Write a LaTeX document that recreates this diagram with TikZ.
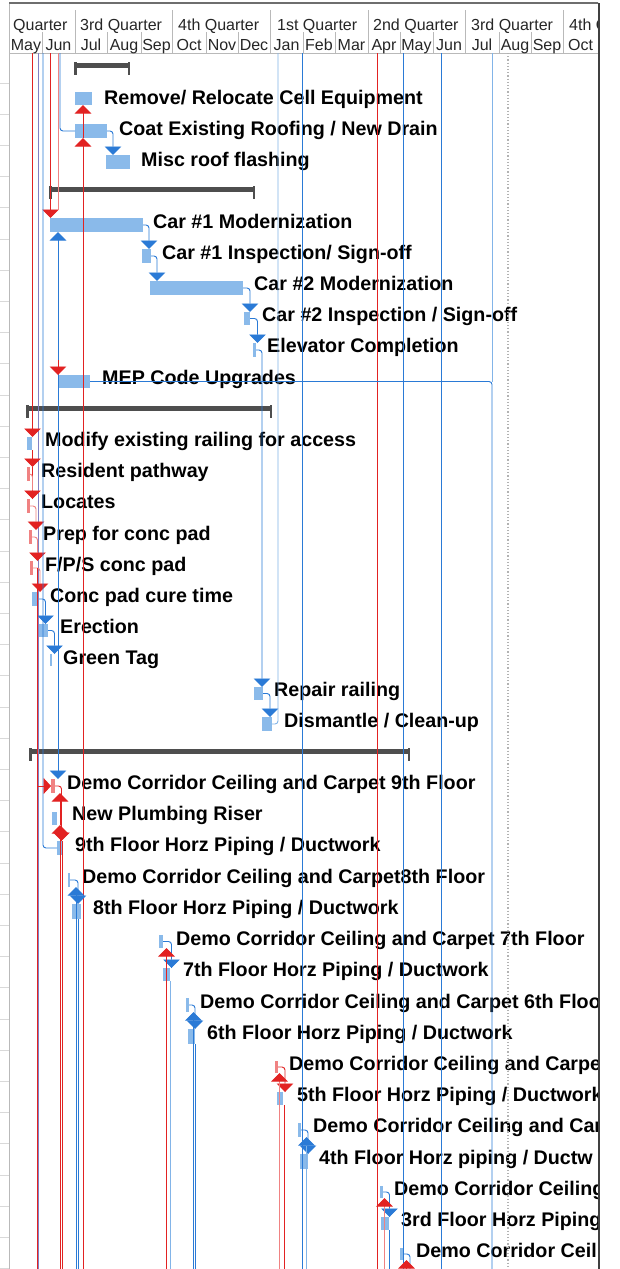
\documentclass[tikz,border=0pt]{standalone}
\usepackage{fontspec}
\setmainfont{Liberation Sans}
\usetikzlibrary{arrows.meta}
\definecolor{barblue}{RGB}{138,186,234}
\definecolor{lnkblue}{RGB}{42,122,214}
\definecolor{lblue}{RGB}{130,180,232}
\definecolor{lnkred}{RGB}{226,34,34}
\definecolor{lred}{RGB}{240,130,130}
\definecolor{purp}{RGB}{128,128,196}
\definecolor{sumgray}{RGB}{78,78,78}
\definecolor{hdrline}{RGB}{185,185,185}
\definecolor{frame}{RGB}{110,110,110}
\newcommand\gbar[6]{\node[#6,minimum width=#4pt,minimum height=#5pt] (#1) at (#2,#3) {};}
\newcommand\gsum[3]{%
  \fill[sumgray] (#1,#3) rectangle (#2,#3+4.5);
  \fill[sumgray] (#1,#3-1) rectangle (#1+2.5,#3+12);
  \fill[sumgray] (#2-2.5,#3-1) rectangle (#2,#3+12);}
\begin{document}
\begin{tikzpicture}[x=1pt,y=-1pt,
  bar/.style={fill=barblue,draw=none,inner sep=0pt,outer sep=0pt,anchor=north west},
  rbar/.style={bar,fill=lred},
  lbl/.style={anchor=base west,inner sep=0pt,font=\fontsize{19.7}{20}\selectfont\bfseries,text=black},
  hq/.style={anchor=base west,inner sep=0pt,font=\fontsize{16}{17}\selectfont,text=black!85},
  hm/.style={anchor=base,inner sep=0pt,font=\fontsize{16}{17}\selectfont,text=black!85},
  blink/.style={draw=lnkblue,line width=0.9pt},
  lblink/.style={draw=lblue,line width=0.9pt},
  rlink/.style={draw=lnkred,line width=0.9pt},
  lrlink/.style={draw=lred,line width=0.9pt},
  plink/.style={draw=purp,line width=0.9pt},
  toB/.style={-{Triangle[width=16.5pt,length=8.5pt,color=lnkblue]}},
  toR/.style={-{Triangle[width=16.5pt,length=8.5pt,color=lnkred]}},
  bothB/.style={{Triangle[width=16.5pt,length=8.5pt,color=lnkblue]}-{Triangle[width=16.5pt,length=8.5pt,color=lnkblue]}},
  toRside/.style={-{Triangle[width=16pt,length=7.5pt,color=lnkred]}},
  hdiv/.style={draw=hdrline,line width=0.8pt},
  rc/.style={rounded corners=3pt}]
\useasboundingbox (0,0) rectangle (619,1269);
\fill[white] (0,0) rectangle (619,1269);

% left table edge
\draw[draw=hdrline,line width=1pt] (9,3) -- (9,1269);
\foreach \k in {0,...,38} \draw[draw=black!15,line width=0.8pt] (0,83+31.2*\k) -- (9,83+31.2*\k);

% free ends of connectors
\coordinate (t33) at (32.5,53);
\coordinate (t38) at (38,53); \coordinate (b38) at (38,1269);
\coordinate (t43) at (43,53);
\coordinate (t50) at (50.5,53);
\coordinate (t58) at (58,53);
\coordinate (t60) at (60,53);
\coordinate (b83) at (83,1269);
\coordinate (t278) at (278,53);
\coordinate (t302) at (302,53); \coordinate (b302) at (302,1269);
\coordinate (t377) at (377,53); \coordinate (b377) at (377,1269);
\coordinate (t403) at (403,53); \coordinate (b403) at (403,1269);
\coordinate (t441) at (441,53); \coordinate (b441) at (441,1269);
\coordinate (t492) at (492,53); \coordinate (b492) at (492,1269);
\coordinate (t508) at (508,53); \coordinate (b508) at (508,1269);
\coordinate (r37) at (37,568); \coordinate (b37) at (37,1269);
\coordinate (mepin) at (58,360);
\coordinate (b60) at (60,1269); \coordinate (b62) at (62,1269);
\coordinate (b76) at (76,1269); \coordinate (b78) at (78,1269);
\coordinate (b166) at (166.5,1269); \coordinate (b170) at (170.5,1269);
\coordinate (b193) at (193.5,1269); \coordinate (b195) at (195.5,1269);
\coordinate (b279) at (279.5,1269); \coordinate (b284) at (284.5,1269);
\coordinate (b306) at (306.5,1269);
\coordinate (b384) at (384.5,1269); \coordinate (b389) at (389.5,1269);
\coordinate (b406) at (406.5,1269); \coordinate (b410) at (410,1269);

\begin{scope}
\clip (9,0) rectangle (598,1269);

% header
\draw[draw=frame,line width=1.2pt] (9,3) -- (599,3);
\draw[draw=hdrline,line width=1pt] (9,53) -- (599,53);
\foreach \x in {42,107,141,206,238,303,335,400,433,499,531} \draw[hdiv] (\x,32) -- (\x,53);
\foreach \x in {75,172,270,368,465,563} \draw[hdiv] (\x,10) -- (\x,53);
\node[hq] (q1) at (13,30) {Quarter};
\node[hq] (q2) at (80,30) {3rd Quarter};
\node[hq] (q3) at (178,30) {4th Quarter};
\node[hq] (q4) at (277,30) {1st Quarter};
\node[hq] (q5) at (373,30) {2nd Quarter};
\node[hq] (q6) at (471,30) {3rd Quarter};
\node[hq] (q7) at (569,30) {4th Q};
\foreach \m/\x [count=\i] in {May/26,Jun/58.5,Jul/91,Aug/124,Sep/156.5,Oct/189,Nov/222,Dec/254,Jan/286.5,Feb/319,Mar/351.5,Apr/384,May/416.5,Jun/449,Jul/482,Aug/515,Sep/547,Oct/580.5}
  \node[hm] (m\i) at (\x,50) {\m};

% labels
\node[lbl] (lremove) at (104,104) {Remove/ Relocate Cell Equipment};
\node[lbl] (lcoat) at (119,135) {Coat Existing Roofing / New Drain};
\node[lbl] (lmisc) at (141,166) {Misc roof flashing};
\node[lbl] (lcar1) at (153,228) {Car \#1 Modernization};
\node[lbl] (linsp1) at (162,259) {Car \#1 Inspection/ Sign-off};
\node[lbl] (lcar2) at (254,290) {Car \#2 Modernization};
\node[lbl] (linsp2) at (262,321) {Car \#2 Inspection / Sign-off};
\node[lbl] (lelev) at (267,352) {Elevator Completion};
\node[lbl] (lmep) at (102,384) {MEP Code Upgrades};
\node[lbl] (lmodify) at (45,446) {Modify existing railing for access};
\node[lbl] (lresident) at (41,477) {Resident pathway};
\node[lbl] (llocates) at (41,508) {Locates};
\node[lbl] (lprep) at (43,540) {Prep for conc pad};
\node[lbl] (lfps) at (45,571) {F/P/S conc pad};
\node[lbl] (lconc) at (50,602) {Conc pad cure time};
\node[lbl] (lerection) at (60,633) {Erection};
\node[lbl] (lgreen) at (63,664) {Green Tag};
\node[lbl] (lrepair) at (274,696) {Repair railing};
\node[lbl] (ldismantle) at (284,727) {Dismantle / Clean-up};
\node[lbl] (ldemo9) at (67,789) {Demo Corridor Ceiling and Carpet 9th Floor};
\node[lbl] (lplumb) at (72,820) {New Plumbing Riser};
\node[lbl] (lfloor9) at (75,851) {9th Floor Horz Piping / Ductwork};
\node[lbl] (ldemo8) at (82,883) {Demo Corridor Ceiling and Carpet8th Floor};
\node[lbl] (lfloor8) at (93,914) {8th Floor Horz Piping / Ductwork};
\node[lbl] (ldemo7) at (176,945) {Demo Corridor Ceiling and Carpet 7th Floor};
\node[lbl] (lfloor7) at (183,976) {7th Floor Horz Piping / Ductwork};
\node[lbl] (ldemo6) at (200,1008) {Demo Corridor Ceiling and Carpet 6th Floo};
\node[lbl] (lfloor6) at (207,1039) {6th Floor Horz Piping / Ductwork};
\node[lbl] (ldemo5) at (289,1070) {Demo Corridor Ceiling and Carpe};
\node[lbl] (lfloor5) at (297,1101) {5th Floor Horz Piping / Ductwork};
\node[lbl] (ldemo4) at (313,1132) {Demo Corridor Ceiling and Car};
\node[lbl] (lfloor4) at (319,1164) {4th Floor Horz piping / Ductw};
\node[lbl] (ldemo3) at (394,1195) {Demo Corridor Ceiling};
\node[lbl] (lfloor3) at (401,1226) {3rd Floor Horz Piping};
\node[lbl] (ldemo2) at (416,1257) {Demo Corridor Ceili};

% summary bars
\gsum{74}{130}{63}
\gsum{49}{255}{187}
\gsum{26}{272}{406}
\gsum{29}{410}{749}

% task bars
\gbar{remove}{75}{92}{17}{13}{bar}
\gbar{coat}{75}{124}{32}{14}{bar}
\gbar{misc}{106}{155}{24}{14}{bar}
\gbar{car1}{50}{218}{93}{14}{bar}
\gbar{insp1}{142}{249}{9}{14}{bar}
\gbar{car2}{150}{281}{93}{14}{bar}
\gbar{insp2}{244}{312}{6}{13}{bar}
\gbar{elev}{253}{343}{3}{14}{bar}
\gbar{mep}{58}{375}{32}{13}{bar}
\gbar{modify}{27}{437}{5}{13}{bar}
\gbar{resident}{27}{467}{3}{14}{rbar}
\gbar{locates}{27}{499}{3}{14}{rbar}
\gbar{prep}{29}{530}{3}{14}{rbar}
\gbar{fps}{30}{561}{3}{14}{rbar}
\gbar{conc}{32}{592}{7}{14}{bar}
\gbar{erection}{39}{624}{9}{13}{bar}
\gbar{green}{50}{654}{2}{12}{bar}
\gbar{repair}{254}{687}{9}{13}{bar}
\gbar{dismantle}{262}{717}{10}{14}{bar}
\gbar{demo9}{51}{779}{4}{14}{rbar}
\gbar{plumb}{52}{812}{5}{13}{bar}
\gbar{floor9}{57}{841}{5}{14}{bar}
\gbar{demo8}{68}{873}{2}{14}{bar}
\gbar{floor8}{72}{904}{9}{15}{bar}
\gbar{demo7}{159}{935}{4}{13}{bar}
\gbar{floor7}{163}{968}{7}{13}{bar}
\gbar{demo6}{186}{998}{3}{14}{bar}
\gbar{floor6}{188}{1029}{7}{15}{bar}
\gbar{demo5}{275}{1061}{3}{12}{rbar}
\gbar{floor5}{277}{1092}{6}{13}{bar}
\gbar{demo4}{298}{1123}{3}{14}{bar}
\gbar{floor4}{300}{1154}{8}{15}{bar}
\gbar{demo3}{380}{1186}{3}{12}{bar}
\gbar{floor3}{381}{1217}{8}{13}{bar}
\gbar{demo2}{400}{1248}{4}{12}{bar}

% long vertical link lines
\draw[plink] (t38) -- (b38);
\draw[blink] (t302) -- (b302);
\draw[rlink] (t377) -- (b377);
\draw[blink] (t403) -- (b403);
\draw[blink] (t441) -- (b441);
\draw[draw=black!30,line width=1.2pt,dotted] (t508) -- (b508);

% top group
\draw[blink,rc] (t60) |- (coat.west);
\draw[rlink,toR] (coat.south -| b83) -- (b83 |- remove.south);
\draw[rlink,toR] (b83) -- (b83 |- coat.south);
\draw[blink,rc,toB] (coat.east) -| ([xshift=7pt]misc.north west);

% elevator group
\draw[rlink,toR] (t50) -- (t50 |- car1.north);
\draw[lrlink] (t58) -- ([yshift=8pt]t58 |- car1.north);
\draw[blink,bothB] (car1.south -| t58) -- (demo9.north -| t58);
\draw[blink,rc,toB] (car1.east) -| ([xshift=7pt]insp1.north west);
\draw[blink,rc,toB] (insp1.east) -| ([xshift=7pt]car2.north west);
\draw[blink,rc,toB] (car2.east) -| ([xshift=6pt]insp2.north west);
\draw[blink,rc,toB] (insp2.east) -| ([xshift=4.5pt]elev.north west);
\draw[blink,rc,toB] (elev.east) -| ([xshift=8pt]repair.north west);
\draw[lblink] (t492) -- (t492 |- mep.east);
\draw[blink,rc] (mep.east) -| (b492);
\draw[rlink,toR] (mepin) -- (mepin |- mep.north);

% railing group
\draw[rlink,toR] (t33) -- (t33 |- modify.north);
\draw[rlink,toR] (modify.south -| t33) -- (t33 |- resident.north);
\draw[rlink] (resident.north -| t33) -- (t33 |- locates.north);
\draw[lrlink,rc,toR] (resident.east) -| ([xshift=5.5pt]locates.north west);
\draw[lrlink,rc,toR] (locates.east) -| ([xshift=7pt]prep.north west);
\draw[lrlink,rc,toR] (prep.east) -| ([xshift=7.5pt]fps.north west);
\draw[lrlink,rc,toR] (fps.east) -| ([xshift=8pt]conc.north west);
\draw[blink,rc,toB] (conc.east) -| ([xshift=6.5pt]erection.north west);
\draw[blink,rc,toB] (erection.east) -| ([xshift=4.5pt]green.north west);
\draw[lblink,rc] (t278) |- (dismantle.east);
\draw[blink,rc,toB] (repair.east) -| ([xshift=8pt]dismantle.north west);

% floors group
\draw[blink,rc] (t43) |- (floor9.west);
\draw[rlink] (r37) -- (b37);
\draw[rlink,toRside] (b37 |- demo9.west) -- (demo9.west);
\draw[rlink,rc,toR] (demo9.east) -| ([xshift=4.5pt]floor9.north west);
\draw[rlink,toR] (plumb.south -| b60) -- (b60 |- demo9.south);
\draw[rlink,toR] (b60) -- (b60 |- plumb.south);
\draw[rlink] (floor9.north -| b62) -- (b62);

\draw[blink,rc,toB] (demo8.east) -| ([xshift=6pt]floor8.north west);
\draw[blink,toB] (b76) -- (b76 |- demo8.south);
\draw[blink] (floor8.south -| b78) -- (b78);

\draw[blink,rc,toB] (demo7.east) -| ([xshift=8.5pt]floor7.north west);
\draw[rlink,toR] (b166) -- (b166 |- demo7.south);
\draw[lblink] (floor7.south -| b170) -- (b170);

\draw[blink,rc,toB] (demo6.east) -| ([xshift=7pt]floor6.north west);
\draw[blink,toB] (b193) -- (b193 |- demo6.south);
\draw[blink] (floor6.south -| b195) -- (b195);

\draw[rlink,rc,toR] (demo5.east) -| ([xshift=8pt]floor5.north west);
\draw[lrlink,toR] (b279) -- (b279 |- demo5.south);
\draw[rlink] (floor5.south -| b284) -- (b284);

\draw[blink,rc,toB] (demo4.east) -| ([xshift=8pt]floor4.north west);
\draw[lblink,toB] (b306) -- (b306 |- demo4.south);

\draw[blink,rc,toB] (demo3.east) -| ([xshift=8.5pt]floor3.north west);
\draw[lrlink,toR] (b384) -- (b384 |- demo3.south);
\draw[blink] (floor3.south -| b389) -- (b389);

\draw[blink,rc] (demo2.east) -| (b410);
\draw[rlink,toR] (b406) -- (b406 |- demo2.south);
\end{scope}

% right frame
\draw[draw=black!75,line width=1.5pt] (599,3) -- (599,1269);
\end{tikzpicture}
\end{document}
